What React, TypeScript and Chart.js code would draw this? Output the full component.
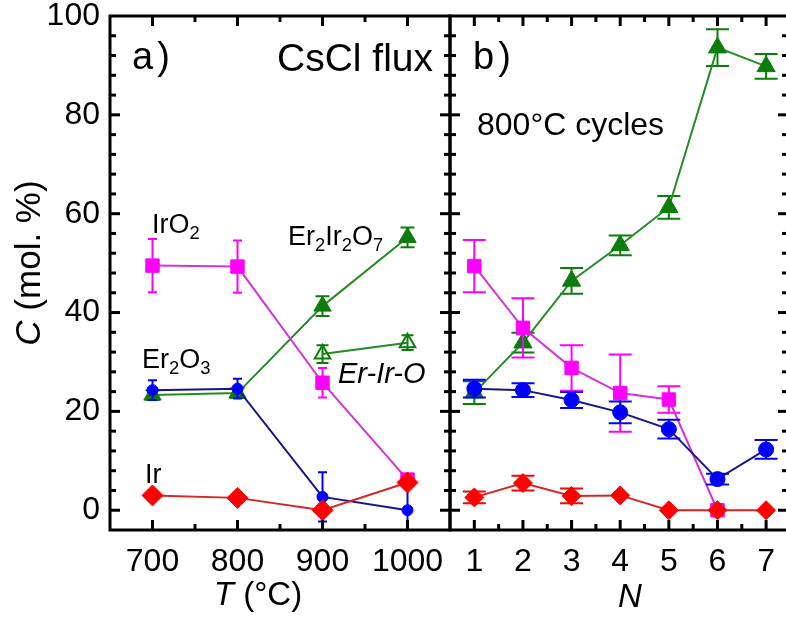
import React, { useEffect, useRef } from "react";
import { Chart, registerables } from "chart.js";

Chart.register(...registerables);

const FONT = '"Liberation Sans", Arial, Helvetica, sans-serif';

// ---- a) CsCl flux, phase fractions vs. synthesis temperature ----
const TEMPS = [700, 800, 900, 1000];
const T_IRO2 = [49.5, 49.3, 25.8, 6.2];
const T_IRO2_ERR = [5.4, 5.3, 3.0, 1.0];
const T_ER2O3 = [24.3, 24.6, 2.7, 0];
const T_ER2O3_ERR = [2.0, 2.0, 5.0, 5.0];
const T_PYRO = [23.3, 23.7, 41.3, 55.2];
const T_PYRO_ERR = [1.0, 1.0, 2.0, 2.0];
const T_ERIRO_X = [900, 1000];
const T_ERIRO = [31.6, 33.9];
const T_ERIRO_ERR = [1.8, 1.5];
const T_IR = [3.0, 2.5, 0, 5.6];
const T_IR_ERR = [0.5, 0.5, 0.5, 1.0];

// ---- b) repeated 800 °C cycles ----
const CYCLES = [1, 2, 3, 4, 5, 6, 7];
const N_PYRO = [23.8, 33.9, 46.4, 53.6, 61.3, 93.6, 89.8];
const N_PYRO_ERR = [2.3, 2.0, 2.6, 2.0, 2.3, 3.7, 2.5];
const N_IRO2 = [49.4, 36.9, 28.8, 23.7, 22.4, 0];
const N_IRO2_ERR = [5.3, 6.0, 4.6, 7.8, 2.7, 0];
const N_ER2O3 = [24.6, 24.3, 22.3, 19.8, 16.4, 6.3, 12.3];
const N_ER2O3_ERR = [1.8, 1.4, 1.6, 2.2, 1.9, 1.1, 1.9];
const N_IR = [2.6, 5.5, 2.9, 3.0, 0, 0, 0];
const N_IR_ERR = [1.2, 1.5, 1.5, 0, 0, 0, 0];

// ---- axes ----
const Y_TICKS = [0, 20, 40, 60, 80, 100];
const T_TICKS = [700, 800, 900, 1000];
const N_TICKS = [1, 2, 3, 4, 5, 6, 7];

const COL = {
  iro2: { line: "#d633d6", mark: "#ff00ff" },
  er2o3: { line: "#14148c", mark: "#0000ff" },
  pyro: { line: "#248c24", mark: "#0b7d0b" },
  ir: { line: "#d42626", mark: "#ff0000" },
};

type Part = { t: string; sub?: boolean; it?: boolean; kern?: number };
type Note = {
  x: number;
  y: number;
  size: number;
  parts: Part[];
  align?: "left" | "center" | "right";
  rot?: boolean;
  italic?: boolean;
};

function fontFor(size: number, italic?: boolean) {
  return `${italic ? "italic " : ""}${size}px ${FONT}`;
}

function drawNote(ctx: CanvasRenderingContext2D, n: Note) {
  ctx.save();
  ctx.fillStyle = "#000";
  ctx.textBaseline = "alphabetic";
  ctx.textAlign = "left";
  const segs = n.parts.map((p) => {
    const size = p.sub ? n.size * 0.68 : n.size;
    const f = fontFor(size, p.it ?? n.italic);
    ctx.font = f;
    return { ...p, f, w: ctx.measureText(p.t).width + (p.kern || 0), dy: p.sub ? n.size * 0.22 : 0 };
  });
  const total = segs.reduce((s, p) => s + p.w, 0);
  ctx.translate(n.x, n.y);
  if (n.rot) ctx.rotate(-Math.PI / 2);
  let x = n.align === "center" ? -total / 2 : n.align === "right" ? -total : 0;
  for (const s of segs) {
    ctx.font = s.f;
    ctx.fillText(s.t, x, s.dy);
    x += s.w;
  }
  ctx.restore();
}

function notesPlugin(notes: Note[]) {
  return {
    id: "notes",
    afterDraw(chart: any) {
      for (const n of notes) drawNote(chart.ctx, n);
    },
  };
}

function midpoints(v: number[]) {
  const out: number[] = [];
  for (let i = 0; i < v.length - 1; i++) out.push((v[i] + v[i + 1]) / 2);
  return out;
}

// Closed frame with inward-pointing major/minor ticks on all four sides
function framePlugin(xMajor: number[]) {
  const xMinor = midpoints(xMajor);
  return {
    id: "frame",
    afterDatasetsDraw(chart: any) {
      const { ctx, chartArea: a } = chart;
      const xs = chart.scales.x;
      const ys = chart.scales.y;
      const MAJ = 10;
      const MIN = 6;
      ctx.save();
      ctx.strokeStyle = "#000";
      ctx.lineWidth = 3;
      ctx.strokeRect(a.left, a.top, a.right - a.left, a.bottom - a.top);
      const seg = (x1: number, y1: number, x2: number, y2: number) => {
        ctx.beginPath();
        ctx.moveTo(x1, y1);
        ctx.lineTo(x2, y2);
        ctx.stroke();
      };
      ctx.lineWidth = 3;
      for (const v of xMajor) {
        const px = xs.getPixelForValue(v);
        seg(px, a.top, px, a.top + MAJ);
        seg(px, a.bottom, px, a.bottom - MAJ);
      }
      for (const v of xMinor) {
        const px = xs.getPixelForValue(v);
        seg(px, a.top, px, a.top + MIN);
        seg(px, a.bottom, px, a.bottom - MIN);
      }
      for (let v = 0; v < ys.max; v += 4) {
        if (v <= ys.min) continue;
        const py = ys.getPixelForValue(v);
        const len = v % 20 === 0 ? MAJ : MIN;
        seg(a.left, py, a.left + len, py);
        seg(a.right, py, a.right - len, py);
      }
      ctx.restore();
    },
  };
}

const errorBarPlugin = {
  id: "errorBars",
  beforeDatasetDraw(chart: any, args: any) {
    const ds: any = chart.data.datasets[args.index];
    if (!ds.errors) return;
    const { ctx, chartArea: a } = chart;
    const ys = chart.scales.y;
    ctx.save();
    ctx.beginPath();
    ctx.rect(a.left, a.top, a.right - a.left, a.bottom - a.top);
    ctx.clip();
    ctx.strokeStyle = ds.errColor;
    ctx.lineWidth = 2;
    args.meta.data.forEach((pt: any, i: number) => {
      const e = ds.errors[i];
      if (!e) return;
      const v = ds.data[i].y;
      const x = pt.x;
      const y1 = ys.getPixelForValue(v + e);
      const y2 = ys.getPixelForValue(v - e);
      const h = ds.capWidth / 2;
      ctx.beginPath();
      ctx.moveTo(x, y1);
      ctx.lineTo(x, y2);
      ctx.moveTo(x - h, y1);
      ctx.lineTo(x + h, y1);
      ctx.moveTo(x - h, y2);
      ctx.lineTo(x + h, y2);
      ctx.stroke();
    });
    ctx.restore();
  },
};

function series(
  xs: number[],
  ys: number[],
  errs: number[],
  o: { line: string; mark: string; style: string; r: number; cap: number; order: number; fill?: string; bw?: number }
) {
  return {
    data: ys.map((y, i) => ({ x: xs[i], y })),
    errors: errs,
    capWidth: o.cap,
    errColor: o.mark,
    borderColor: o.line,
    borderWidth: 2,
    pointStyle: o.style,
    pointRadius: o.r,
    pointHoverRadius: o.r,
    pointBackgroundColor: o.fill ?? o.mark,
    pointBorderColor: o.mark,
    pointBorderWidth: o.bw ?? 1,
    order: o.order,
    tension: 0,
  };
}

const tickFont = { family: FONT, size: 32 };

function xScale(min: number, max: number, ticks: number[]) {
  return {
    type: "linear",
    min,
    max,
    grid: { display: false, drawTicks: false },
    border: { display: false },
    ticks: {
      font: tickFont,
      color: "#000",
      padding: 13,
      maxRotation: 0,
      autoSkip: false,
      callback: (v: any) => String(v),
    },
    afterBuildTicks: (s: any) => {
      s.ticks = ticks.map((value) => ({ value }));
    },
    afterFit: (s: any) => {
      s.height = 90;
      s.paddingLeft = 0;
      s.paddingRight = 0;
    },
  };
}

function leftConfig(): any {
  return {
    type: "line",
    data: {
      datasets: [
        series(TEMPS, T_IR, T_IR_ERR, { ...COL.ir, style: "rectRot", r: 10.5, cap: 9, order: 0 }),
        series(TEMPS, T_ER2O3, T_ER2O3_ERR, { ...COL.er2o3, style: "circle", r: 5.5, cap: 9, order: 1 }),
        series(TEMPS, T_IRO2, T_IRO2_ERR, { ...COL.iro2, style: "rect", r: 9.5, cap: 9, order: 2 }),
        series(TEMPS, T_PYRO, T_PYRO_ERR, { ...COL.pyro, style: "triangle", r: 10, cap: 14, order: 3 }),
        series(T_ERIRO_X, T_ERIRO, T_ERIRO_ERR, {
          ...COL.pyro,
          style: "triangle",
          r: 9,
          cap: 12,
          order: 4,
          fill: "rgba(255,255,255,0)",
          bw: 2,
        }),
      ],
    },
    options: {
      responsive: false,
      animation: false,
      events: [],
      layout: { padding: { left: 0, right: 786 - 450, top: 16, bottom: 0 } },
      plugins: { legend: { display: false }, tooltip: { enabled: false } },
      scales: {
        x: xScale(650, 1050, T_TICKS),
        y: {
          type: "linear",
          min: -4,
          max: 100,
          grid: { display: false, drawTicks: false },
          border: { display: false },
          ticks: { font: tickFont, color: "#000", padding: 10, callback: (v: any) => String(v) },
          afterBuildTicks: (s: any) => {
            s.ticks = Y_TICKS.map((value) => ({ value }));
          },
          afterFit: (s: any) => {
            s.width = 110;
            s.paddingTop = 0;
            s.paddingBottom = 0;
          },
        },
      },
    },
    plugins: [
      errorBarPlugin,
      framePlugin(T_TICKS),
      notesPlugin([
        { x: 132, y: 69, size: 38, parts: [{ t: "a", kern: 4 }, { t: ")" }] },
        { x: 433, y: 71, size: 39, parts: [{ t: "CsCl flux" }], align: "right" },
        { x: 152, y: 233, size: 27, parts: [{ t: "IrO" }, { t: "2", sub: true }] },
        {
          x: 288,
          y: 245,
          size: 27,
          parts: [{ t: "Er" }, { t: "2", sub: true }, { t: "Ir" }, { t: "2", sub: true }, { t: "O" }, { t: "7", sub: true }],
        },
        { x: 142, y: 368, size: 27, parts: [{ t: "Er" }, { t: "2", sub: true }, { t: "O" }, { t: "3", sub: true }] },
        { x: 338, y: 383, size: 29, italic: true, parts: [{ t: "Er-Ir-O" }] },
        { x: 145, y: 483, size: 27, parts: [{ t: "Ir" }] },
        { x: 40, y: 263, size: 35, rot: true, align: "center", parts: [{ t: "C", it: true }, { t: " (mol. %)" }] },
        { x: 258, y: 605, size: 33, align: "center", parts: [{ t: "T", it: true }, { t: " (°C)" }] },
      ]),
    ],
  };
}

function rightConfig(): any {
  return {
    type: "line",
    data: {
      datasets: [
        series(CYCLES, N_IR, N_IR_ERR, { ...COL.ir, style: "rectRot", r: 9.5, cap: 23, order: 0 }),
        series(CYCLES, N_ER2O3, N_ER2O3_ERR, { ...COL.er2o3, style: "circle", r: 7.5, cap: 23, order: 1 }),
        series(CYCLES, N_IRO2, N_IRO2_ERR, { ...COL.iro2, style: "rect", r: 9.5, cap: 23, order: 2 }),
        series(CYCLES, N_PYRO, N_PYRO_ERR, { ...COL.pyro, style: "triangle", r: 10.5, cap: 23, order: 3 }),
      ],
    },
    options: {
      responsive: false,
      animation: false,
      events: [],
      layout: { padding: { left: 450, right: 800 - 788, top: 16, bottom: 0 } },
      plugins: { legend: { display: false }, tooltip: { enabled: false } },
      scales: {
        x: xScale(0.5, 7.45, N_TICKS),
        y: { type: "linear", min: -4, max: 100, display: false },
      },
    },
    plugins: [
      errorBarPlugin,
      framePlugin(N_TICKS),
      notesPlugin([
        { x: 473, y: 69, size: 38, parts: [{ t: "b", kern: 4 }, { t: ")" }] },
        { x: 477, y: 135, size: 32, parts: [{ t: "800°C cycles" }] },
        { x: 630, y: 607, size: 33, italic: true, align: "center", parts: [{ t: "N" }] },
      ]),
    ],
  };
}

export default function App() {
  const leftRef = useRef<HTMLCanvasElement>(null);
  const rightRef = useRef<HTMLCanvasElement>(null);

  useEffect(() => {
    const left = new Chart(leftRef.current as HTMLCanvasElement, leftConfig());
    const right = new Chart(rightRef.current as HTMLCanvasElement, rightConfig());
    return () => {
      left.destroy();
      right.destroy();
    };
  }, []);

  return (
    <div
      style={{
        position: "absolute",
        left: 0,
        top: 0,
        width: 786,
        height: 620,
        overflow: "hidden",
        background: "#fff",
      }}
    >
      <canvas ref={leftRef} width={786} height={620} style={{ position: "absolute", left: 0, top: 0 }} />
      <canvas ref={rightRef} width={800} height={620} style={{ position: "absolute", left: 0, top: 0 }} />
    </div>
  );
}
